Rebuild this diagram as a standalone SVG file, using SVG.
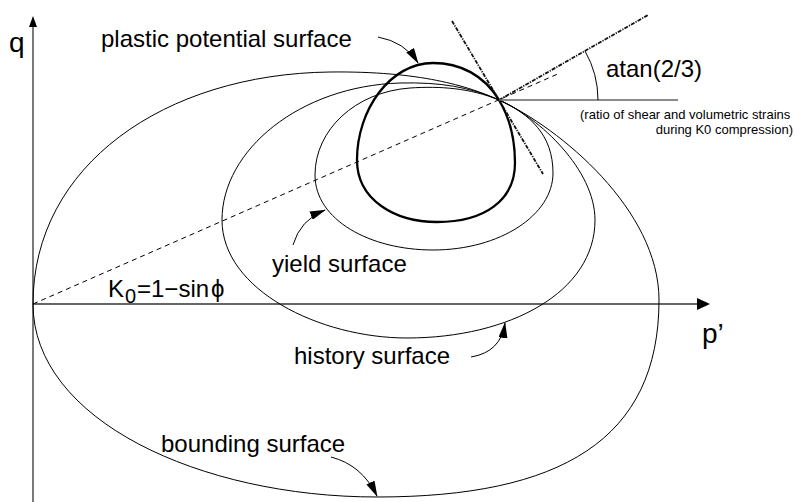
<svg xmlns="http://www.w3.org/2000/svg" width="795" height="502" viewBox="0 0 795 502">
<style>
text{font-family:"Liberation Sans",Arial,sans-serif;fill:#000}
.lbl{font-size:24px}
.ax{font-size:28px}
.small{font-size:13px}
.thin{fill:none;stroke:#000;stroke-width:1}
.thick{fill:none;stroke:#000;stroke-width:2.3}
.lead{fill:none;stroke:#000;stroke-width:1}
.dd{fill:none;stroke:#111;stroke-width:1.8;stroke-dasharray:4 1.2 1.2 1.2}
.dash{fill:none;stroke:#000;stroke-width:1;stroke-dasharray:5 4}
</style>
<defs>
<marker id="ah" viewBox="0 0 16 9" refX="15" refY="4.5" markerWidth="16" markerHeight="9" markerUnits="userSpaceOnUse" orient="auto">
<path d="M0,0 L16,4.5 L0,9 Z" fill="#000"/>
</marker>
</defs>
<rect width="795" height="502" fill="#fff"/>
<g id="axes">
<line x1="33" y1="502" x2="33" y2="25" stroke="#333" stroke-width="1.3"/>
<path d="M33,16 L29,27 L37,27 Z" fill="#000"/>
<line x1="33" y1="304" x2="699" y2="304" stroke="#333" stroke-width="1.3"/>
<path d="M710,304 L697,298 L697,310 Z" fill="#000"/>
<text class="ax" x="9" y="52">q</text>
<text class="ax" x="702" y="343">p’</text>
</g>
<g id="bounding-surface">
<path class="thin" d="M33,304 C33,165 165,74 330,72 C420,71 468,86 499,100 C560,128 659,210 659,300 C659,440 560,497 377,497 C200,497 33,420 33,304 Z"/>
</g>
<g id="history-surface">
<path class="thin" d="M499,100 C470,87 440,82 400,83 C300,86 222,150 222,220 C222,290 320,338 407,338 C510,338 595,292 595,220 C595,170 540,118 499,100 Z"/>
</g>
<g id="yield-surface">
<path class="thin" d="M499,100 C470,88 440,86 410,88 C355,92 315,130 315,175 C315,220 370,250 433,250 C500,250 553,215 553,173 C553,135 530,114 499,100 Z"/>
</g>
<g id="plastic-potential-surface">
<path class="thick" d="M499,100 C484,75 460,63 433,63 C390,63 357,110 357,160 C357,200 395,222 437,222 C485,222 515,200 515,163 C515,135 508,115 499,100 Z"/>
</g>
<g id="k0-line">
<line class="dash" x1="33" y1="304" x2="560" y2="73"/>
<text class="lbl" x="108" y="297">K</text>
<text x="125" y="303" font-size="20">0</text>
<text class="lbl" x="137" y="297">=1−sin</text>
<text class="lbl" x="211" y="297" font-family="'DejaVu Sans',sans-serif" font-size="22">ϕ</text>
</g>
<g id="angle">
<line class="dd" x1="452" y1="21" x2="543" y2="174"/>
<line class="dd" x1="499" y1="100" x2="648" y2="15"/>
<line x1="499" y1="100" x2="678" y2="100" stroke="#666" stroke-width="1.5"/>
<path class="thin" d="M598,100 A99,99 0 0 0 585,51"/>
<text class="lbl" x="606" y="77">atan(2/3)</text>
<text class="small" x="580" y="119">(ratio of shear and volumetric strains</text>
<text class="small" x="793" y="134" text-anchor="end">during K0 compression)</text>
</g>
<g id="connectors">
<path class="lead" d="M378,37 Q405,42 418,63" marker-end="url(#ah)"/>
<path class="lead" d="M293,245 Q300,220 325,210" marker-end="url(#ah)"/>
<path class="lead" d="M471,357 Q501,352 505,323" marker-end="url(#ah)"/>
<path class="lead" d="M331,457 Q362,465 377,496" marker-end="url(#ah)"/>
</g>
<g id="labels">
<text class="lbl" x="101" y="47">plastic potential surface</text>
<text class="lbl" x="272" y="272">yield surface</text>
<text class="lbl" x="294" y="364">history surface</text>
<text class="lbl" x="161" y="452">bounding surface</text>
</g>
</svg>
